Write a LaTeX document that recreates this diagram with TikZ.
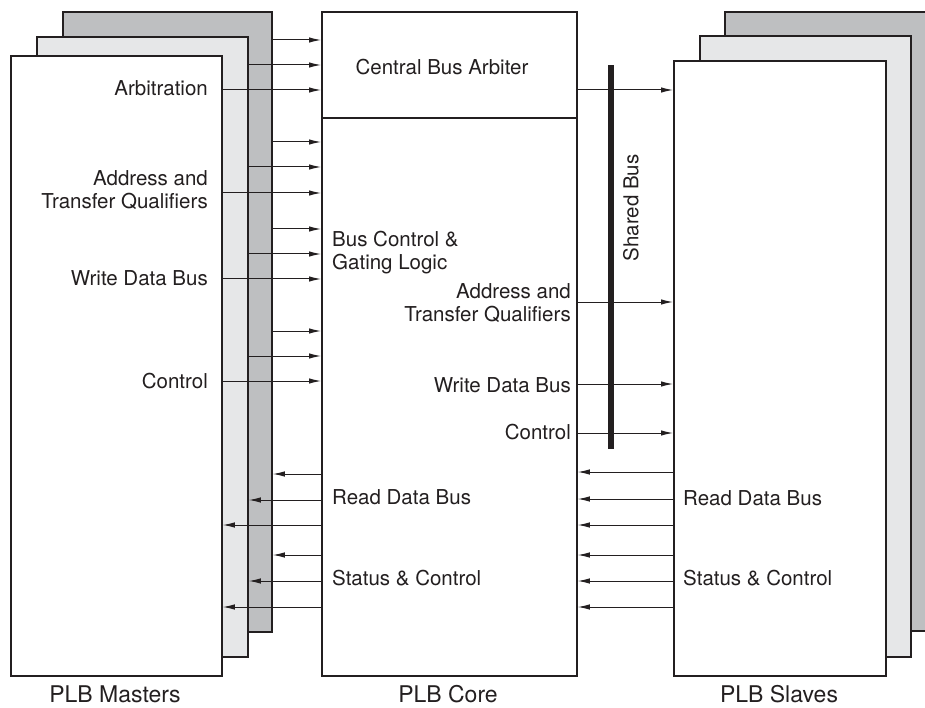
\documentclass[tikz,border=0pt]{standalone}
\usepackage{fontspec}
\setmainfont{TeX Gyre Heros}
\usetikzlibrary{arrows.meta}
\definecolor{lineclr}{HTML}{231F20}
\definecolor{darkfill}{HTML}{BEBFC1}
\definecolor{lightfill}{HTML}{E6E7E8}
\begin{document}
\begin{tikzpicture}[x=1pt, y=-1pt,
    font=\fontsize{20.5}{23}\selectfont, text=lineclr,
    box/.style={draw=lineclr, line width=1.8pt, fill=white, inner sep=0, anchor=north west},
    sig/.style={draw=lineclr, line width=1pt, -{Latex[length=12pt, width=5.5pt]}},
    lbl/.style={inner sep=0, align=right, anchor=east},
    lbll/.style={inner sep=0, align=left, anchor=west},
    title/.style={inner sep=0, font=\fontsize{23}{26}\selectfont}]
    \useasboundingbox (0,0) rectangle (925,708);
    \begin{scope}
    \clip (0,0) rectangle (925,708);
    % PLB masters, back to front
    \node[box, fill=darkfill, minimum width=209, minimum height=620] (m3) at (62,11) {};
    \node[box, fill=lightfill, minimum width=211, minimum height=620] (m2) at (36,36) {};
    \node[box, minimum width=211, minimum height=620] (m1) at (10,55) {};
    % PLB slaves, back to front
    \node[box, fill=darkfill, minimum width=210, minimum height=619] (s3) at (724,11) {};
    \node[box, fill=lightfill, minimum width=211, minimum height=621] (s2) at (699,35) {};
    \node[box, minimum width=212, minimum height=615] (s1) at (673,60) {};
    \end{scope}
    % PLB core
    \node[box, minimum width=255, minimum height=664] (core) at (321,11) {};
    \node[box, minimum width=255, minimum height=106] (arb) at (321,11) {};
    \node (arbtxt) at (442,67) {Central Bus Arbiter};
    % shared bus
    \node[fill=lineclr, inner sep=0, minimum width=6, minimum height=384] (bus) at (611,257) {};
    \node[rotate=90, inner sep=0] (bustxt) at (631,208) {Shared Bus};

    % masters -> core
    \draw[sig] (m3.east |- 0,40) -- (core.west |- 0,40);
    \draw[sig] (m2.east |- 0,65) -- (core.west |- 0,65);
    \draw[sig] (m1.east |- 0,90) -- (core.west |- 0,90);
    \draw[sig] (m3.east |- 0,142) -- (core.west |- 0,142);
    \draw[sig] (m2.east |- 0,167) -- (core.west |- 0,167);
    \draw[sig] (m1.east |- 0,193) -- (core.west |- 0,193);
    \draw[sig] (m3.east |- 0,229) -- (core.west |- 0,229);
    \draw[sig] (m2.east |- 0,254) -- (core.west |- 0,254);
    \draw[sig] (m1.east |- 0,279) -- (core.west |- 0,279);
    \draw[sig] (m3.east |- 0,331) -- (core.west |- 0,331);
    \draw[sig] (m2.east |- 0,356) -- (core.west |- 0,356);
    \draw[sig] (m1.east |- 0,381) -- (core.west |- 0,381);
    % core -> masters
    \draw[sig] (core.west |- 0,474) -- (m3.east |- 0,474);
    \draw[sig] (core.west |- 0,500) -- (m2.east |- 0,500);
    \draw[sig] (core.west |- 0,525) -- (m1.east |- 0,525);
    \draw[sig] (core.west |- 0,555) -- (m3.east |- 0,555);
    \draw[sig] (core.west |- 0,581) -- (m2.east |- 0,581);
    \draw[sig] (core.west |- 0,607) -- (m1.east |- 0,607);
    % core -> slaves
    \draw[sig] (core.east |- 0,90) -- (s1.west |- 0,90);
    \draw[sig] (core.east |- 0,302) -- (s1.west |- 0,302);
    \draw[sig] (core.east |- 0,384) -- (s1.west |- 0,384);
    \draw[sig] (core.east |- 0,433) -- (s1.west |- 0,433);
    % slaves -> core
    \draw[sig] (s1.west |- 0,472) -- (core.east |- 0,472);
    \draw[sig] (s1.west |- 0,499) -- (core.east |- 0,499);
    \draw[sig] (s1.west |- 0,525) -- (core.east |- 0,525);
    \draw[sig] (s1.west |- 0,555) -- (core.east |- 0,555);
    \draw[sig] (s1.west |- 0,581) -- (core.east |- 0,581);
    \draw[sig] (s1.west |- 0,607) -- (core.east |- 0,607);

    % labels
    \node[lbl] (marb) at (208,88) {Arbitration};
    \node[lbl] (maddr) at (208,190) {Address and\\Transfer Qualifiers};
    \node[lbl] (mwr) at (208,278) {Write Data Bus};
    \node[lbl] (mctl) at (208,381) {Control};
    \node[lbll] (cgate) at (332,253) {Bus Control \&\\Gating Logic};
    \node[lbl] (caddr) at (571,303) {Address and\\Transfer Qualifiers};
    \node[lbl] (cwr) at (571,385) {Write Data Bus};
    \node[lbl] (cctl) at (571,432) {Control};
    \node[lbll] (crd) at (332,497) {Read Data Bus};
    \node[lbll] (cst) at (332,578) {Status \& Control};
    \node[lbll] (srd) at (683,498) {Read Data Bus};
    \node[lbll] (sst) at (683,578) {Status \& Control};
    \node[title] (mname) at (115,694) {PLB Masters};
    \node[title] (cname) at (448,694) {PLB Core};
    \node[title] (sname) at (779,694) {PLB Slaves};
\end{tikzpicture}
\end{document}
